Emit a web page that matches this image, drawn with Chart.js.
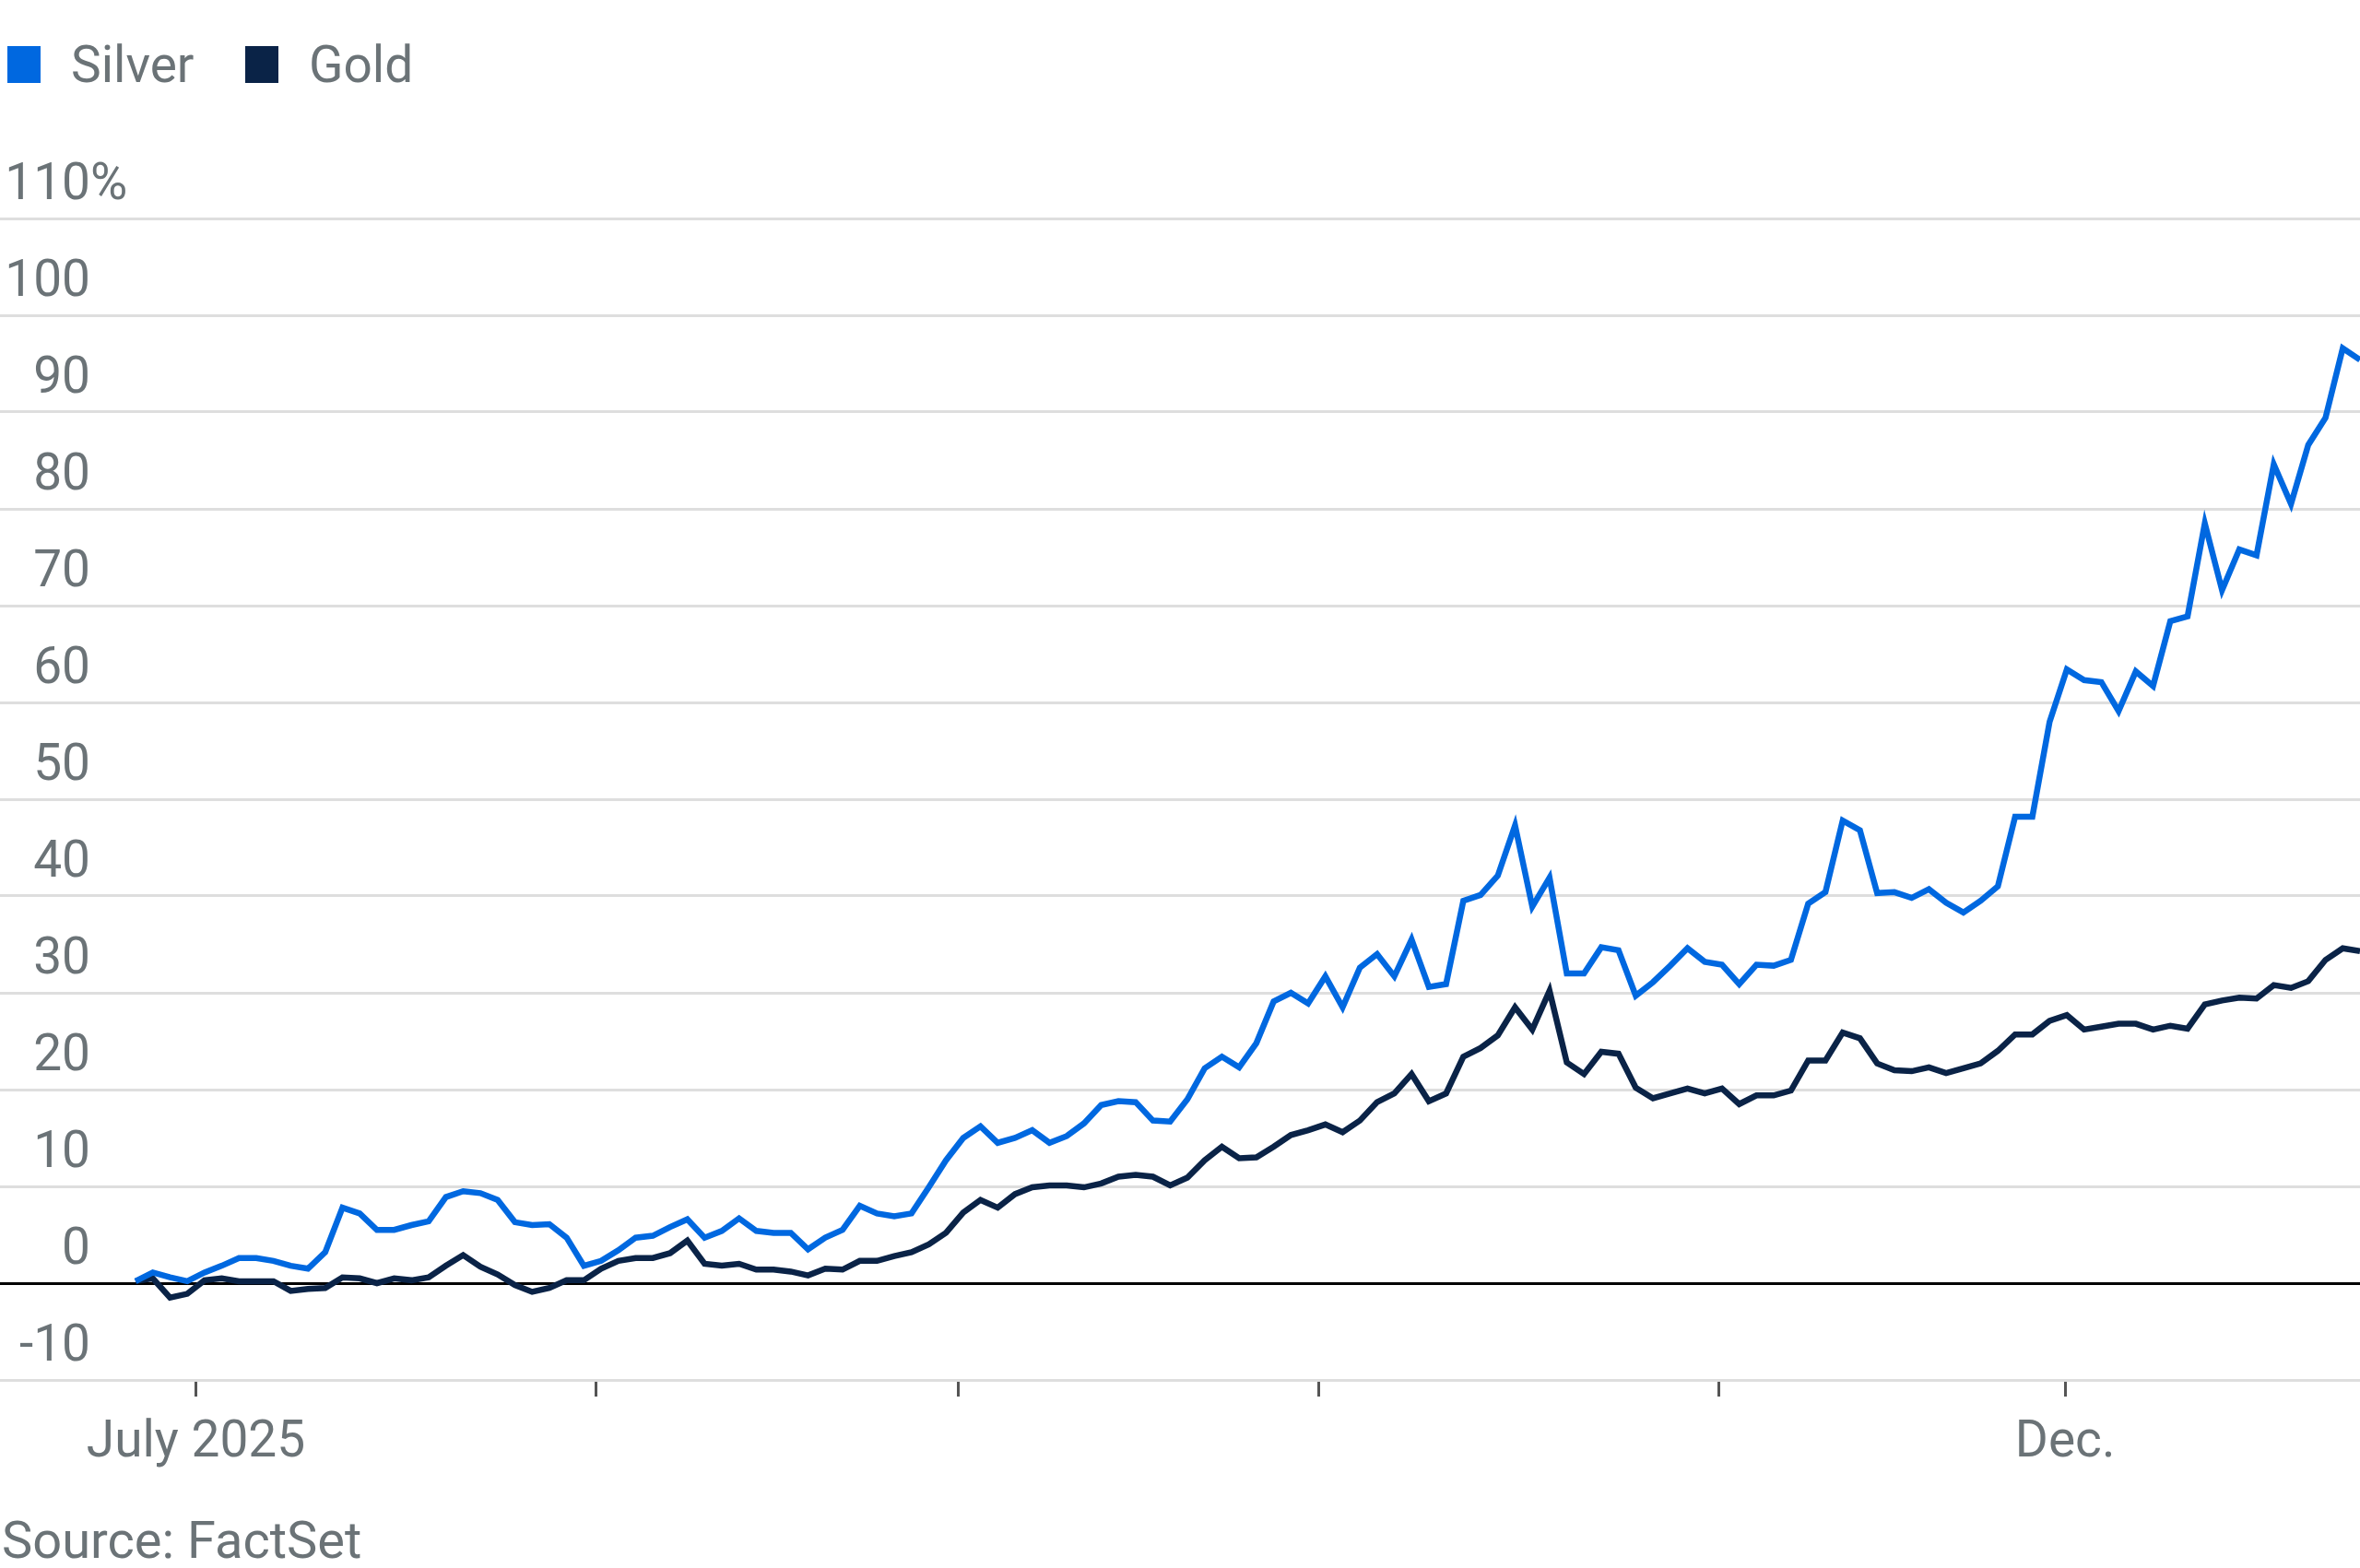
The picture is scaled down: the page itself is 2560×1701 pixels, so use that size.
<!DOCTYPE html>
<html><head><meta charset="utf-8">
<script src="https://cdn.jsdelivr.net/npm/chart.js@4.4.1/dist/chart.umd.min.js"></script>
<style>
html,body{margin:0;padding:0;background:#fff;width:2560px;height:1701px;overflow:hidden;font-family:Roboto,"Liberation Sans",sans-serif;}
#wrap{position:absolute;left:0;top:0;width:2560px;height:1640px;}
.leg{position:absolute;top:38px;font-size:55px;color:#6b7377;display:flex;align-items:center;}
.leg span{display:inline-block;width:36px;height:40px;margin-right:33px;}
#src{position:absolute;left:2px;top:1638px;font-size:56px;color:#6b7377;}
</style></head><body>
<div class="leg" style="left:8px"><span style="background:#0068e0"></span>Silver</div>
<div class="leg" style="left:266px"><span style="background:#0a2347"></span>Gold</div>
<div id="wrap"><canvas id="c"></canvas></div>
<div id="src">Source: FactSet</div>
<script>
const silver = [0.2,1.1,0.6,0.2,1.1,1.8,2.6,2.6,2.3,1.8,1.5,3.2,
7.8,7.2,5.5,5.5,6.0,6.4,8.9,9.5,9.3,8.6,
6.3,6.0,6.1,4.7,1.8,2.3,3.4,4.7,4.9,5.8,
6.6,4.7,5.4,6.7,5.4,5.2,5.2,3.5,4.7,5.5,
8.0,7.2,6.9,7.2,9.9,12.7,15.0,16.2,14.5,15.0,
15.8,14.5,15.2,16.5,18.4,18.8,18.7,16.8,16.7,19.0,
22.2,23.4,22.3,24.8,29.1,30.0,28.9,31.7,28.5,32.6,
34.0,31.7,35.5,30.6,30.9,39.5,40.1,42.1,47.3,38.9,
41.9,32.0,32.0,34.7,34.4,29.7,31.1,32.8,34.6,33.2,
32.9,30.9,32.9,32.8,33.4,39.2,40.4,47.8,46.8,40.3,
40.4,39.8,40.7,39.3,38.3,39.5,41.0,48.2,48.2,58.0,
63.4,62.3,62.1,59.1,63.2,61.7,68.4,68.9,78.5,71.6,
75.8,75.2,84.6,80.5,86.6,89.4,96.6,95.4];
const gold = [0.2,0.5,-1.5,-1.1,0.3,0.5,0.2,0.2,0.2,-0.8,-0.6,-0.5,
0.6,0.5,0,0.5,0.3,0.6,1.8,2.9,1.7,0.9,
-0.2,-0.9,-0.5,0.3,0.3,1.5,2.3,2.6,2.6,3.1,
4.4,2.0,1.8,2.0,1.4,1.4,1.2,0.8,1.5,1.4,
2.3,2.3,2.8,3.2,4.0,5.2,7.3,8.6,7.8,9.2,
9.9,10.1,10.1,9.9,10.3,11.0,11.2,11.0,10.1,10.9,
12.7,14.1,12.9,13.0,14.1,15.3,15.8,16.4,15.6,16.8,
18.7,19.6,21.6,18.8,19.6,23.4,24.3,25.6,28.5,26.2,
30.2,22.8,21.6,23.9,23.7,20.2,19.1,19.6,20.1,19.6,
20.1,18.5,19.4,19.4,19.9,23.0,23.0,25.9,25.3,22.7,
22.0,21.9,22.3,21.7,22.2,22.7,24.0,25.7,25.7,27.1,
27.7,26.2,26.5,26.8,26.8,26.2,26.6,26.3,28.8,29.2,
29.5,29.4,30.8,30.5,31.2,33.4,34.6,34.3];
const monthTickIndex = [3.5,26.7,47.7,68.6,91.8,111.9];
const monthTickLabels = ["July 2025","","","","","Dec."];
const yTickLabels = {"-10":"-10","0":"0","10":"10","20":"20","30":"30","40":"40","50":"50","60":"60","70":"70","80":"80","90":"90","100":"100","110":"110%"};

const toXY = a => a.map((v,i)=>({x:i,y:v}));
const yLabelPlugin = {
  id:'ylab',
  afterDraw(chart){
    const ctx=chart.ctx, y=chart.scales.y;
    ctx.save();
    ctx.font='55px Roboto, "Liberation Sans", sans-serif';
    ctx.fillStyle='#6b7377';
    ctx.textBaseline='alphabetic';
    y.ticks.forEach(t=>{
      const lab=yTickLabels[String(t.value)]; if(lab===undefined) return;
      const py=y.getPixelForValue(t.value);
      const num=lab.replace('%','');
      ctx.textAlign='right';
      ctx.fillText(num,98,py-21);
      if(lab.endsWith('%')){ctx.textAlign='left';ctx.fillText('%',98,py-21);}
    });
    ctx.restore();
  }
};
new Chart(document.getElementById('c'),{
  type:'line',
  data:{datasets:[
    {label:'Gold',data:toXY(gold),borderColor:'#0a2347',borderWidth:6.5,pointRadius:0,tension:0,order:2},
    {label:'Silver',data:toXY(silver),borderColor:'#0068e0',borderWidth:6.5,pointRadius:0,tension:0,order:1}
  ]},
  options:{
    responsive:true,maintainAspectRatio:false,animation:false,
    layout:{padding:{top:237,bottom:23,left:0,right:0}},
    plugins:{legend:{display:false},tooltip:{enabled:false}},
    scales:{
      x:{type:'linear',min:-7.86,max:129,
        afterBuildTicks(s){s.ticks=monthTickIndex.map(v=>({value:v}));},
        ticks:{autoSkip:false,maxRotation:0,font:{size:55,family:'Roboto, "Liberation Sans", sans-serif'},color:'#6b7377',padding:18,
          callback:(v,i)=>monthTickLabels[i]},
        grid:{display:true,drawOnChartArea:false,drawTicks:true,tickLength:18,color:'#555',lineWidth:3},
        border:{display:false}},
      y:{min:-10,max:110,
        ticks:{display:false,stepSize:10},
        grid:{color:c=>c.tick.value===0?'#000':'#dedede',lineWidth:3,drawTicks:false},
        border:{display:false}}
    }
  },
  plugins:[yLabelPlugin]
});
</script></body></html>
